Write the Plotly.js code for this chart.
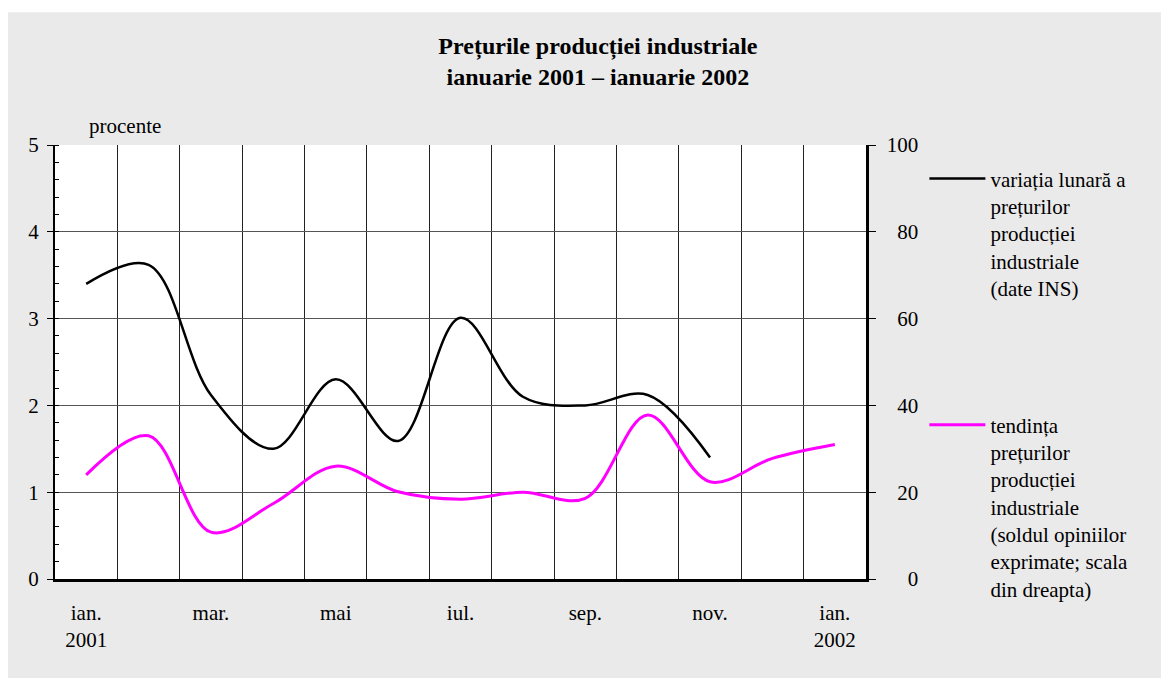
<!DOCTYPE html>
<html>
<head>
<meta charset="utf-8">
<script src="https://cdn.plot.ly/plotly-3.0.1.min.js"></script>
<style>html,body{margin:0;padding:0;background:#fff;}#chart{width:1161px;height:678px;}</style>
</head>
<body>
<div id="chart"></div>
<script>
var months = ['ian. 2001','feb. 2001','mar. 2001','apr. 2001','mai 2001','iun. 2001','iul. 2001','aug. 2001','sep. 2001','oct. 2001','nov. 2001','dec. 2001','ian. 2002'];
var monthTickText = ['ian.<br>2001','','mar.','','mai','','iul.','','sep.','','nov.','','ian.<br>2002'];
var monthlyVariation = [3.40, 3.62, 2.12, 1.50, 2.30, 1.59, 3.01, 2.10, 2.00, 2.12, 1.40];
var priceTrend = [24, 33, 10.8, 17.4, 26, 20.1, 18.4, 20, 18.6, 37.8, 22.4, 27.8, 31];
var leftTicks = [0, 1, 2, 3, 4, 5];
var rightTicks = [0, 20, 40, 60, 80, 100];
var rightTickText = ['\u2007\u20070', '\u200720', '\u200740', '\u200760', '\u200780', '100'];
var seriesNames = [
  'variația lunară a<br>prețurilor<br>producției<br>industriale<br>(date INS)',
  'tendința<br>prețurilor<br>producției<br>industriale<br>(soldul opiniilor<br>exprimate; scala<br>din dreapta)'
];

var FONT = '"Liberation Serif", "Times New Roman", serif';

var traces = [
  {
    x: months.slice(0, monthlyVariation.length),
    y: monthlyVariation,
    name: seriesNames[0],
    type: 'scatter', mode: 'lines',
    line: {color: '#000000', width: 2.5, shape: 'spline', smoothing: 1},
    yaxis: 'y', legend: 'legend'
  },
  {
    x: months,
    y: priceTrend,
    name: seriesNames[1],
    type: 'scatter', mode: 'lines',
    line: {color: '#ff00ff', width: 3, shape: 'spline', smoothing: 1},
    yaxis: 'y2', legend: 'legend2'
  }
];

var layout = {
  width: 1161, height: 678,
  margin: {l: 55, r: 295, t: 145, b: 99, pad: 0},
  paper_bgcolor: '#eaeaea',
  plot_bgcolor: '#ffffff',
  font: {family: FONT, size: 21, color: '#000'},
  title: {
    text: '<b>Prețurile producției industriale<br>ianuarie 2001 – ianuarie 2002</b>',
    font: {family: FONT, size: 24, color: '#000'},
    x: 0.515, xanchor: 'center', xref: 'container',
    y: 0.92, yanchor: 'top', yref: 'container'
  },
  xaxis: {
    type: 'category',
    categoryorder: 'array', categoryarray: months,
    range: [-0.5, 12.5],
    tickmode: 'array', tickvals: months, ticktext: monthTickText,
    tickson: 'boundaries',
    ticks: '', showgrid: true, gridcolor: '#222', gridwidth: 1,
    showline: true, linecolor: '#000', linewidth: 2.5,
    ticklabelstandoff: 13,
    tickfont: {family: FONT, size: 21, color: '#000'},
    zeroline: false, fixedrange: true
  },
  yaxis: {
    range: [0, 5], tickmode: 'array', tickvals: leftTicks,
    ticks: 'outside', ticklen: 6, tickwidth: 1, tickcolor: '#000',
    minor: {dtick: 0.2, ticks: 'inside', ticklen: 4, tickcolor: '#000', showgrid: false},
    showgrid: true, gridcolor: '#555', gridwidth: 1,
    showline: true, linecolor: '#000', linewidth: 2,
    zeroline: false,
    ticklabelstandoff: 4,
    tickfont: {family: FONT, size: 21, color: '#000'},
    fixedrange: true
  },
  yaxis2: {
    overlaying: 'y', side: 'right', anchor: 'x',
    range: [0, 100], tickmode: 'array', tickvals: rightTicks, ticktext: rightTickText,
    ticks: 'outside', ticklen: 7, tickwidth: 1, tickcolor: '#000',
    showgrid: false, zeroline: false,
    showline: true, linecolor: '#000', linewidth: 2.5,
    ticklabelstandoff: 7,
    tickfont: {family: FONT, size: 21, color: '#000'},
    fixedrange: true
  },
  legend: {
    x: 1.072, xanchor: 'left', y: 0.969, yanchor: 'top',
    bgcolor: 'rgba(0,0,0,0)', borderwidth: 0,
    font: {family: FONT, size: 21, color: '#000'},
    valign: 'top', itemwidth: 56, itemclick: false, itemdoubleclick: false
  },
  legend2: {
    x: 1.072, xanchor: 'left', y: 0.402, yanchor: 'top',
    bgcolor: 'rgba(0,0,0,0)', borderwidth: 0,
    font: {family: FONT, size: 21, color: '#000'},
    valign: 'top', itemwidth: 56, itemclick: false, itemdoubleclick: false
  },
  showlegend: true,
  annotations: [
    {text: 'procente', xref: 'paper', yref: 'paper', x: 0.04, y: 1.0, xanchor: 'left', yanchor: 'bottom',
     yshift: 5, showarrow: false, font: {family: FONT, size: 21, color: '#000'}}
  ],
  shapes: [
    {type: 'rect', xref: 'paper', yref: 'paper', x0: -0.1, x1: 1.4, y0: 1.306, y1: 1.4,
     fillcolor: '#ffffff', line: {width: 0}, layer: 'below'},
    {type: 'rect', xref: 'paper', yref: 'paper', x0: -0.1, x1: -0.058, y0: -0.3, y1: 1.4,
     fillcolor: '#ffffff', line: {width: 0}, layer: 'below'}
  ]
};

Plotly.newPlot('chart', traces, layout, {displayModeBar: false, staticPlot: true});
</script>
</body>
</html>
